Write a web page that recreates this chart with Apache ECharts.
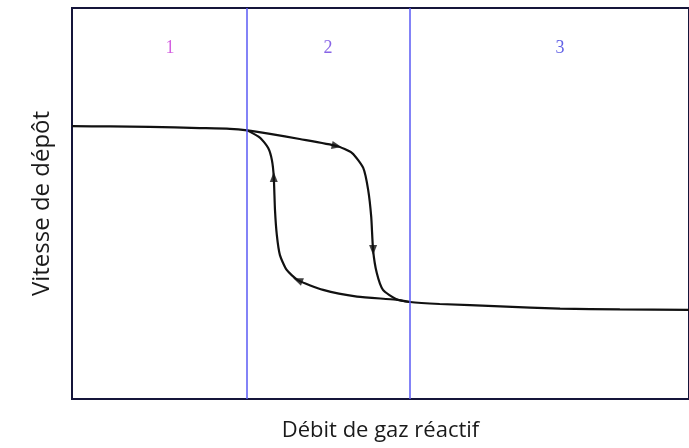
<!DOCTYPE html>
<html>
<head>
<meta charset="utf-8">
<script src="https://cdn.jsdelivr.net/npm/echarts@6/dist/echarts.min.js"></script>
<style>
html, body { margin: 0; padding: 0; background: #fff; }
#myChart { width: 689px; height: 448px; }
</style>
</head>
<body>
<div id="myChart"></div>
<script>
// branche aller : plateau haut puis chute vers le plateau bas
var montee = [
	[0, 69.8], [6.2, 69.7], [12.6, 69.6], [20.7, 69.3], [25.6, 69.1], [28.4, 68.7],
	[32.1, 67.8], [36.9, 66.5], [42.9, 64.7], [45.4, 62.9], [47.2, 59.1], [48.0, 53.5],
	[48.5, 46.5], [48.8, 38.1], [49.4, 32.2], [50.4, 27.9], [52.5, 25.6], [54.8, 24.8],
	[59.6, 24.3], [69.4, 23.7], [79.1, 23.1], [88.8, 22.9], [100, 22.8]
];
// branche retour (debit decroissant)
var retour = [
	[54.8, 24.8], [52.5, 25.4], [46.2, 26.2], [40.7, 27.9], [36.6, 30.4], [34.8, 33.0],
	[33.7, 36.8], [33.2, 41.9], [32.9, 48.3], [32.7, 56.8], [32.4, 61.1], [31.8, 64.2],
	[30.5, 66.8], [28.4, 68.7]
];
// fleches : x, y, rotation
var fleches = [
	[42.9, 64.7, -102], [48.8, 38.1, 180], [36.6, 30.4, 68], [32.7, 56.8, 0]
];
var limites = [28.4, 54.8];
var zones = [['1', 15.9], ['2', 41.5], ['3', 79.1]];
var zoneCouleurs = ['#c838d8', '#6a3ee0', '#3a3ae0'];

var option = {
	animation: false,
	grid: {
		left: 72, top: 8, right: -1, bottom: 49,
		show: true, borderColor: '#15153a', borderWidth: 2
	},
	xAxis: {
		type: 'value', min: 0, max: 100,
		name: 'Débit de gaz réactif', nameLocation: 'middle', nameGap: 21,
		nameTextStyle: { fontFamily: 'Open Sans', fontSize: 22, color: '#1a1a1a' },
		axisLine: { show: false }, axisTick: { show: false },
		axisLabel: { show: false }, splitLine: { show: false }
	},
	yAxis: {
		type: 'value', min: 0, max: 100,
		name: 'Vitesse de dépôt', nameLocation: 'middle', nameGap: 18,
		nameTextStyle: { fontFamily: 'Open Sans', fontSize: 24, color: '#1a1a1a' },
		axisLine: { show: false }, axisTick: { show: false },
		axisLabel: { show: false }, splitLine: { show: false }
	},
	series: [{
		type: 'line', data: montee, smooth: 0.2, symbol: 'none',
		lineStyle: { color: '#111', width: 2.2 },
		markLine: {
			silent: true, symbol: 'none', label: { show: false },
			lineStyle: { color: '#5a5af5', width: 1.5, type: 'solid' },
			data: limites.map(function (v) { return { xAxis: v }; })
		}
	}, {
		type: 'line', data: retour, smooth: 0.2, symbol: 'none',
		lineStyle: { color: '#111', width: 2.2 }
	}, {
		type: 'scatter', symbol: 'triangle', symbolSize: [8, 10],
		itemStyle: { color: '#111' },
		data: fleches.map(function (f) { return { value: [f[0], f[1]], symbolRotate: f[2] }; })
	}, {
		type: 'scatter', symbolSize: 0,
		label: {
			show: true, position: 'inside',
			fontFamily: 'Liberation Serif', fontSize: 18,
			formatter: function (p) { return p.data.name; }
		},
		data: zones.map(function (z, i) {
			return { name: z[0], value: [z[1], 89.8], label: { color: zoneCouleurs[i] } };
		})
	}]
};
var myChart = echarts.init(document.getElementById('myChart'));
myChart.setOption(option);
</script>
</body>
</html>
